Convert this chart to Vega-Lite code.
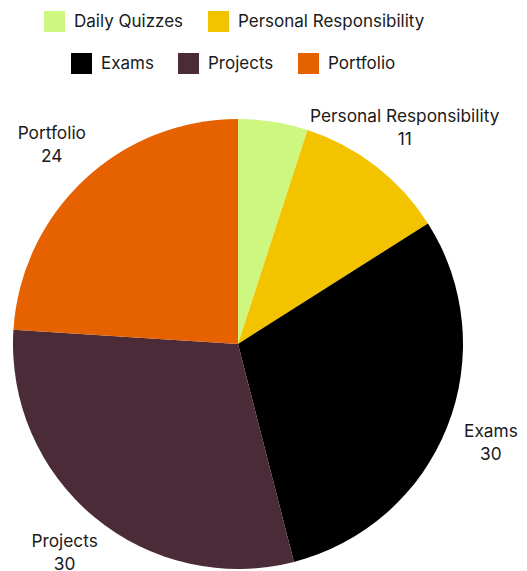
{
  "$schema": "https://vega.github.io/schema/vega-lite/v6.json",
  "width": 450,
  "height": 450,
  "autosize": {"type": "none"},
  "padding": {"left": 13, "top": 119, "right": 64, "bottom": 2},
  "background": "white",
  "data": {
    "values": [
      {"category": "Daily Quizzes", "value": 5, "idx": 1, "label": ""},
      {"category": "Personal Responsibility", "value": 11, "idx": 2, "label": "Personal Responsibility\n11"},
      {"category": "Exams", "value": 30, "idx": 3, "label": "Exams\n30"},
      {"category": "Projects", "value": 30, "idx": 4, "label": "Projects\n30"},
      {"category": "Portfolio", "value": 24, "idx": 5, "label": "Portfolio\n24"}
    ]
  },
  "layer": [
    {
      "mark": {"type": "arc"},
      "encoding": {
        "theta": {"field": "value", "type": "quantitative", "stack": true},
        "order": {"field": "idx", "type": "quantitative"},
        "color": {
          "field": "category",
          "type": "nominal",
          "scale": {
            "domain": ["Daily Quizzes", "Personal Responsibility", "Exams", "Projects", "Portfolio"],
            "range": ["#cdf77f", "#f3c300", "#000000", "#4b2b38", "#e66100"]
          },
          "legend": null
        }
      }
    },
    {
      "mark": {"type": "text", "radius": 272, "dy": -12, "lineBreak": "\n", "lineHeight": 23, "fontSize": 17.3, "font": "Inter", "color": "#1a1a1a", "align": "center", "baseline": "middle"},
      "encoding": {
        "theta": {"field": "value", "type": "quantitative", "stack": true},
        "order": {"field": "idx", "type": "quantitative"},
        "text": {"field": "label", "type": "nominal"}
      }
    },
    {
      "transform": [{"filter": {"field": "category", "oneOf": ["Daily Quizzes", "Personal Responsibility"]}}],
      "mark": {"type": "arc", "radius": 0},
      "encoding": {
        "color": {
          "field": "category",
          "type": "nominal",
          "scale": {"domain": ["Daily Quizzes", "Personal Responsibility"], "range": ["#cdf77f", "#f3c300"]},
          "legend": {"orient": "none", "legendX": 31, "legendY": -108, "direction": "horizontal", "title": null}
        }
      }
    },
    {
      "transform": [{"filter": {"field": "category", "oneOf": ["Exams", "Projects", "Portfolio"]}}],
      "mark": {"type": "arc", "radius": 0},
      "encoding": {
        "color": {
          "field": "category",
          "type": "nominal",
          "scale": {"domain": ["Exams", "Projects", "Portfolio"], "range": ["#000000", "#4b2b38", "#e66100"]},
          "legend": {"orient": "none", "legendX": 58, "legendY": -66, "direction": "horizontal", "title": null}
        }
      }
    }
  ],
  "resolve": {"scale": {"color": "independent"}, "legend": {"color": "independent"}},
  "config": {
    "view": {"stroke": null},
    "legend": {
      "symbolType": "square",
      "symbolSize": 441,
      "symbolStrokeWidth": 0,
      "symbolOpacity": 1,
      "labelFont": "Inter",
      "labelFontSize": 17,
      "labelColor": "#1a1a1a",
      "labelOffset": 9,
      "columnPadding": 24,
      "padding": 0,
      "labelLimit": 400
    }
  }
}
